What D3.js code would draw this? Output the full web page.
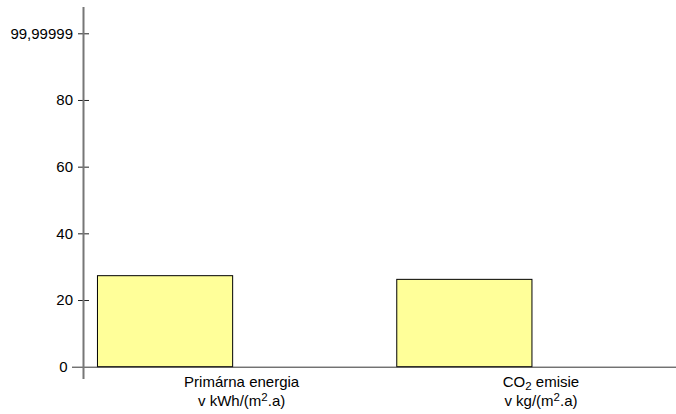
<!DOCTYPE html>
<html>
<head>
<meta charset="utf-8">
<script src="https://cdn.jsdelivr.net/npm/d3@7"></script>
<style>
  html, body { margin: 0; padding: 0; background: #fff; }
  svg { display: block; font-family: "Liberation Sans", Arial, sans-serif; }
</style>
</head>
<body>
<svg id="chart" width="676" height="414"></svg>
<script>
// ---- data ----
const categories = ["Primárna energia", "CO2 emisie"];
const values = [27.3, 26.2];
const tickValues = [0, 20, 40, 60, 80, 99.99999];
const tickLabels = ["0", "20", "40", "60", "80", "99,99999"];
// label segments: [text, mode] mode: n normal, sub subscript, sup superscript
const labelLine1 = [
  [["Primárna energia", "n"]],
  [["CO", "n"], ["2", "sub"], [" emisie", "n"]]
];
const labelLine2 = [
  [["v kWh/(m", "n"], ["2", "sup"], [".a)", "n"]],
  [["v kg/(m", "n"], ["2", "sup"], [".a)", "n"]]
];

// ---- layout ----
const svg = d3.select("#chart");
const axisX = 83.5;
const y = d3.scaleLinear().domain([0, 100]).range([366.7, 33.3]);
const x = d3.scaleBand().domain(categories).range([83, 681.6]).paddingInner(0).paddingOuter(0);
const sub = d3.scaleBand().domain(["bar", "empty"]).range([0, x.bandwidth()]).paddingInner(0).paddingOuter(0.107);

// bars
svg.append("g").selectAll("rect")
  .data(categories)
  .join("rect")
  .attr("x", (c) => x(c) + sub("bar"))
  .attr("width", sub.bandwidth())
  .attr("y", (c, i) => y(values[i]))
  .attr("height", (c, i) => y(0) - y(values[i]))
  .attr("fill", "#ffff99")
  .attr("stroke", "#000")
  .attr("stroke-width", 1);

// y axis
const yAxis = d3.axisLeft(y)
  .tickValues(tickValues)
  .tickFormat((d, i) => tickLabels[i])
  .tickSize(5)
  .tickPadding(6);
const gy = svg.append("g").attr("transform", `translate(${axisX},0)`).call(yAxis);
gy.select(".domain").remove();
gy.selectAll(".tick line")
  .attr("x1", (d) => d === 0 ? -11.5 : -5.5)
  .attr("x2", (d) => d === 0 ? 676 - axisX : 5.5)
  .attr("stroke", (d) => d === 0 ? "#333" : "#222")
  .attr("stroke-width", 1);
gy.selectAll(".tick text")
  .attr("x", (d) => d === 0 ? -16 : -10.5)
  .attr("font-size", 15)
  .attr("font-family", "Liberation Sans, Arial, sans-serif")
  .attr("fill", "#000");
gy.append("line")
  .attr("x1", 0).attr("x2", 0)
  .attr("y1", 7).attr("y2", 379)
  .attr("stroke", "#777")
  .attr("stroke-width", 2);

// category labels
function writeLabel(g, segs) {
  let shift = 0;
  segs.forEach(([t, m]) => {
    const ts = g.append("tspan").text(t);
    const target = m === "sub" ? 2.5 : m === "sup" ? -5 : 0;
    ts.attr("dy", target - shift);
    if (m !== "n") ts.attr("font-size", 11.5);
    shift = target;
  });
}
const gl = svg.append("g").attr("font-size", 15).attr("fill", "#000").attr("text-anchor", "middle");
categories.forEach((c, i) => {
  const cx = x(c) + x.bandwidth() / 2 + 9;
  const t1 = gl.append("text").attr("x", cx).attr("y", 387);
  writeLabel(t1, labelLine1[i]);
  const t2 = gl.append("text").attr("x", cx).attr("y", 405.5);
  writeLabel(t2, labelLine2[i]);
});
</script>
</body>
</html>
